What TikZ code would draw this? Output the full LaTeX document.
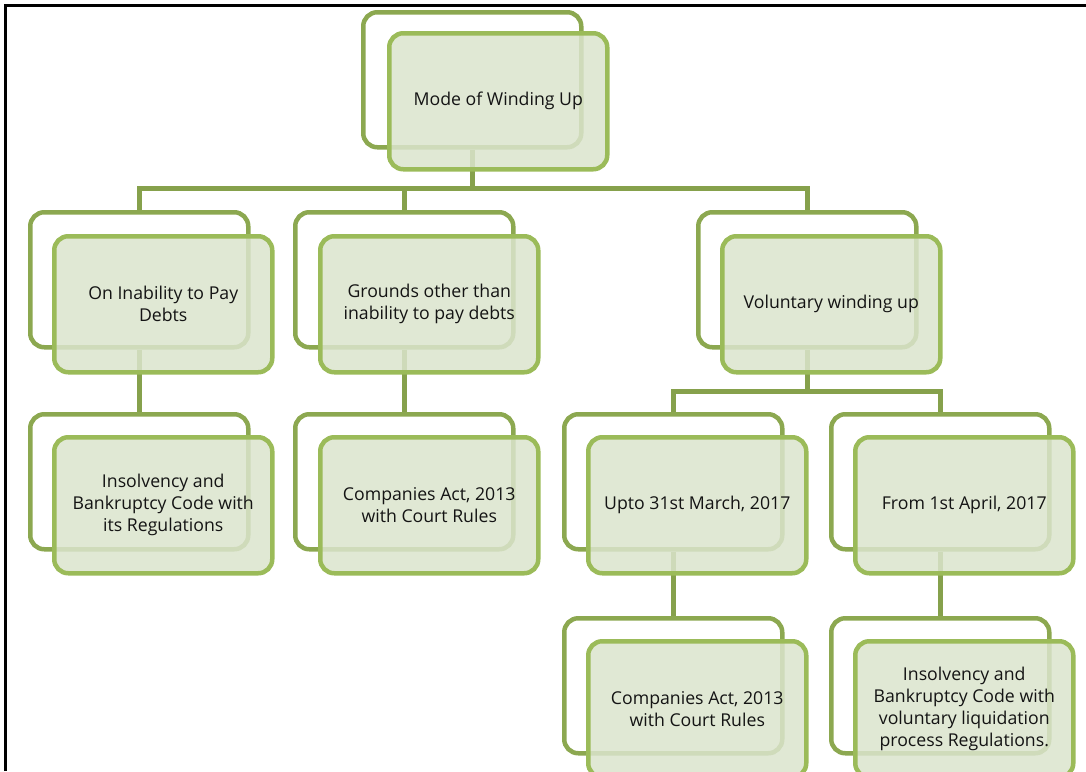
\documentclass[tikz,border=0pt]{standalone}
\usepackage{fontspec}
\setmainfont{Open Sans}
\definecolor{backline}{RGB}{140,168,80}
\definecolor{frontline}{RGB}{155,187,89}
\definecolor{frontfill}{RGB}{219,228,205}
\definecolor{connline}{RGB}{134,161,76}
\definecolor{textcol}{RGB}{20,20,20}
\tikzset{
  backbox/.style={draw=backline, line width=4.5pt, fill=white, rounded corners=14pt,
    minimum width=218pt, minimum height=135pt, anchor=north west, inner sep=0pt},
  frontbox/.style={draw=frontline, line width=4.5pt, fill=frontfill, fill opacity=0.85,
    draw opacity=1, text opacity=1, rounded corners=14pt,
    minimum width=218pt, minimum height=136pt, anchor=north west, inner sep=0pt,
    align=center, font=\fontsize{17.7pt}{22pt}\selectfont, text=textcol},
  connector/.style={draw=connline, line width=5pt},
  frameline/.style={draw=black, line width=3pt}
}
\begin{document}
\begin{tikzpicture}[x=1pt,y=-1pt]
\useasboundingbox (0,0) rectangle (1086,771);
\clip (0,0) rectangle (1086,771);
% frame
\coordinate (fbl) at (5.5,771);
\coordinate (ftl) at (5.5,5);
\coordinate (ftr) at (1086,5);
\draw[frameline] (fbl) -- (ftl) -- (ftr);
% back boxes
\node[backbox] (Ab) at (361,10) {};
\node[backbox] (B1b) at (28,210) {};
\node[backbox] (B2b) at (293,210) {};
\node[backbox] (B3b) at (696,210) {};
\node[backbox] (C1b) at (28,412) {};
\node[backbox] (C2b) at (293,412) {};
\node[backbox] (C3b) at (562,412) {};
\node[backbox] (C4b) at (829,412) {};
\node[backbox] (D3b) at (562,616) {};
\node[backbox] (D4b) at (829,616) {};
% connectors
\coordinate (bus1) at (0,188);
\coordinate (bus2) at (0,391);
\draw[connector] (Ab.south) -- (Ab.south |- bus1);
\draw[connector] (B1b.north) -- (B1b.north |- bus1) -- (B3b.north |- bus1) -- (B3b.north);
\draw[connector] (B2b.north) -- (B2b.north |- bus1);
\draw[connector] (B1b.south) -- (C1b.north);
\draw[connector] (B2b.south) -- (C2b.north);
\draw[connector] (B3b.south) -- (B3b.south |- bus2);
\draw[connector] (C3b.north) -- (C3b.north |- bus2) -- (C4b.north |- bus2) -- (C4b.north);
\draw[connector] (C3b.south) -- (D3b.north);
\draw[connector] (C4b.south) -- (D4b.north);
% front boxes
\node[frontbox] (Af) at (387,31) {Mode of Winding Up};
\node[frontbox] (B1f) at (52,234) {On Inability to Pay\\Debts};
\node[frontbox] (B2f) at (318,234) {Grounds other than\\inability to pay debts};
\node[frontbox] (B3f) at (720,234) {Voluntary winding up};
\node[frontbox] (C1f) at (52,435) {Insolvency and\\Bankruptcy Code with\\its Regulations};
\node[frontbox] (C2f) at (318,435) {Companies Act, 2013\\with Court Rules};
\node[frontbox] (C3f) at (586,435) {Upto 31st March, 2017};
\node[frontbox] (C4f) at (853,435) {From 1st April, 2017};
\node[frontbox] (D3f) at (586,639) {Companies Act, 2013\\with Court Rules};
\node[frontbox] (D4f) at (853,639) {Insolvency and\\Bankruptcy Code with\\voluntary liquidation\\process Regulations.};
\end{tikzpicture}
\end{document}
